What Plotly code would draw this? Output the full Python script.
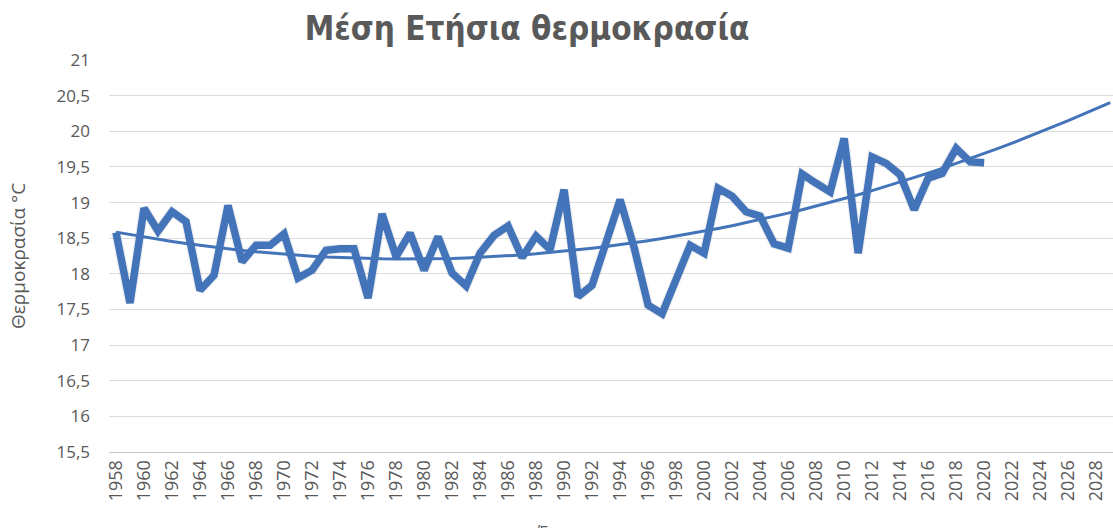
import numpy as np
import plotly.graph_objects as go

years = list(range(1958, 2021))
temps = [18.58, 17.59, 18.92, 18.60, 18.87, 18.73, 17.77, 17.98, 18.96, 18.17,
         18.40, 18.40, 18.56, 17.94, 18.05, 18.33, 18.35, 18.35, 17.66, 18.84,
         18.24, 18.57, 18.05, 18.52, 18.01, 17.83, 18.29, 18.54, 18.67, 18.23,
         18.53, 18.34, 19.18, 17.68, 17.84, 18.42, 19.04, 18.37, 17.56, 17.44,
         17.93, 18.40, 18.29, 19.20, 19.09, 18.87, 18.81, 18.42, 18.36, 19.40,
         19.27, 19.15, 19.90, 18.29, 19.64, 19.55, 19.39, 18.90, 19.34, 19.41,
         19.76, 19.57, 19.56]
trend_years = list(range(1958, 2030))
tick_years = list(range(1958, 2030, 2))

title_text = "Μέση Ετήσια θερμοκρασία"
y_title = "Θερμοκρασία °C"
x_title = "Έτος"

coef = np.polyfit(np.array(years) - 1958, np.array(temps), 2)
trend = np.polyval(coef, np.array(trend_years) - 1958)

blue = "#4374b9"
grey = "#595959"
font_fam = "Open Sans, Liberation Sans, sans-serif"

fig = go.Figure()
fig.add_trace(go.Scatter(x=years, y=temps, mode="lines",
                         line=dict(color="rgba(0,0,0,0.06)", width=10),
                         showlegend=False, hoverinfo="skip"))
fig.add_trace(go.Scatter(x=years, y=temps, mode="lines",
                         line=dict(color=blue, width=7.5), showlegend=False))
fig.add_trace(go.Scatter(x=trend_years, y=trend, mode="lines",
                         line=dict(color=blue, width=3), showlegend=False))

W, H = 1113, 528
L, R, T, B = 109, 0, 60, 76
fig.update_layout(
    width=W, height=H,
    margin=dict(l=L, r=R, t=T, b=B),
    paper_bgcolor="white", plot_bgcolor="white",
    separators=", ",
    title=dict(text=title_text, x=527 / W, xanchor="center", xref="container",
               y=1 - 28 / H, yanchor="middle", yref="container",
               font=dict(family="DejaVu Sans Condensed, Liberation Sans Narrow, Open Sans, sans-serif",
                         size=33, color=grey, weight="bold")),
    xaxis=dict(range=[1957.5, 2029.2], tickmode="array", tickvals=tick_years,
               ticktext=[str(v) for v in tick_years], tickangle=-90,
               showgrid=False, zeroline=False, showline=True, linecolor="#c4c4c4",
               linewidth=1, ticks="",
               tickfont=dict(family=font_fam, size=18, color=grey)),
    yaxis=dict(range=[15.5, 21], dtick=0.5, tick0=15.5, showgrid=True,
               gridcolor="#dcdcdc", gridwidth=1, zeroline=False, ticks="",
               ticklabelstandoff=18,
               tickfont=dict(family=font_fam, size=17, color=grey)),
    annotations=[
        dict(text=y_title, textangle=-90, xref="paper", yref="paper",
             x=(18 - L) / (W - L - R), y=0.5, xanchor="center", yanchor="middle",
             showarrow=False, font=dict(family=font_fam, size=19, color=grey)),
        dict(text=x_title, xref="paper", yref="paper",
             x=(555 - L) / (W - L - R), y=(H - B - 519) / (H - T - B),
             xanchor="center", yanchor="top", showarrow=False,
             font=dict(family=font_fam, size=16, color=grey)),
    ],
)

fig.write_html("out.html", config={"displayModeBar": False},
               post_script="document.body.style.margin='0';")
